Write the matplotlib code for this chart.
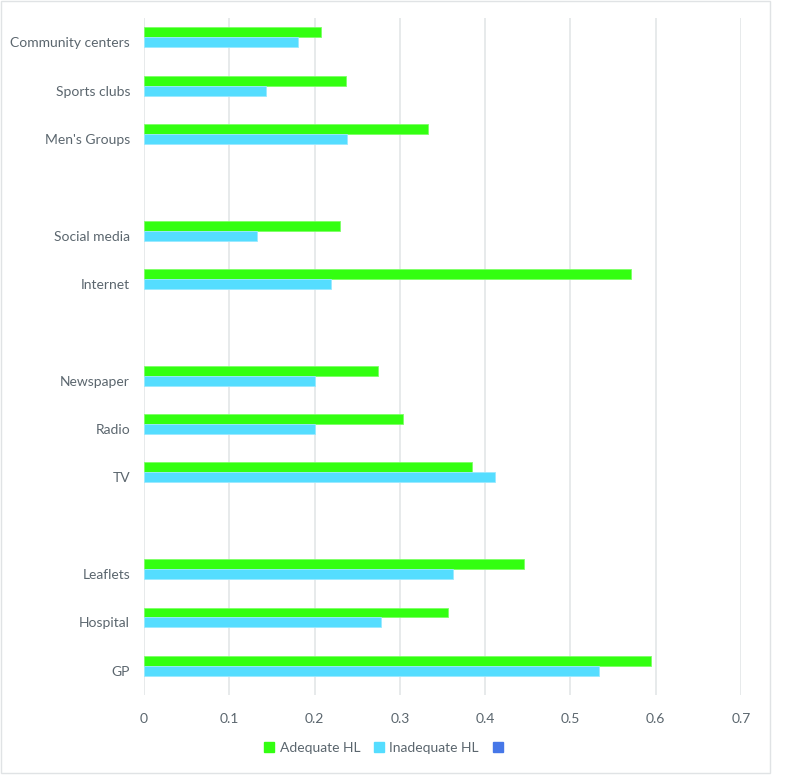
import matplotlib
matplotlib.use("Agg")
import matplotlib.pyplot as plt
import numpy as np
from matplotlib.patches import Patch, Rectangle

categories = ["Community centers", "Sports clubs", "Men's Groups", "",
              "Social media", "Internet", "",
              "Newspaper", "Radio", "TV", "",
              "Leaflets", "Hospital", "GP"]
adequate = [0.207, 0.237, 0.333, np.nan,
            0.230, 0.571, np.nan,
            0.274, 0.304, 0.385, np.nan,
            0.445, 0.356, 0.594]
inadequate = [0.181, 0.143, 0.238, np.nan,
              0.133, 0.219, np.nan,
              0.200, 0.200, 0.411, np.nan,
              0.362, 0.278, 0.534]
third = [np.nan] * len(categories)
series_labels = ["Adequate HL", "Inadequate HL", " "]
xticks = [0, 0.1, 0.2, 0.3, 0.4, 0.5, 0.6, 0.7]
xtick_labels = ["0", "0.1", "0.2", "0.3", "0.4", "0.5", "0.6", "0.7"]

GREEN = "#33ff11"
BLUE = "#55ddff"
DBLUE = "#4677e8"
TXT = "#5b666e"
GRID = "#e3e6e8"

plt.rcParams['font.family'] = ['Lato', 'DejaVu Sans']

fig = plt.figure(figsize=(7.99, 7.84), dpi=100)
ax = fig.add_axes([144/799, 1-695/784, (741-144)/799, (695-18)/784])

y = np.arange(len(categories))
w = 0.206
ax.barh(y - w, adequate, height=w, color=GREEN, edgecolor="#7dff66", linewidth=0.6, label=series_labels[0], zorder=3)
ax.barh(y, inadequate, height=w, color=BLUE, edgecolor="#9ae9ff", linewidth=0.6, label=series_labels[1], zorder=3)
ax.barh(y + w, third, height=w, color=DBLUE, label=series_labels[2], zorder=3)

ax.set_ylim(len(categories) - 0.5, -0.5)
ax.set_xlim(0, 0.7)
ax.set_yticks(y)
ax.set_yticklabels(categories)
ax.set_xticks(xticks)
ax.set_xticklabels(xtick_labels)
ax.tick_params(axis='both', length=0, labelsize=10, labelcolor=TXT)
ax.tick_params(axis='x', pad=13)
ax.tick_params(axis='y', pad=10)
ax.grid(axis='x', color=GRID, linewidth=1.2, zorder=0)
for s in ax.spines.values():
    s.set_visible(False)

handles = [Patch(color=GREEN), Patch(color=BLUE), Patch(color=DBLUE)]
fig.legend(handles, series_labels, loc='center', bbox_to_anchor=(388/799, 1-748/784),
           ncol=3, frameon=False, fontsize=10, labelcolor=TXT,
           handlelength=0.7, handleheight=0.7, handletextpad=0.4, columnspacing=1.0)

fig.patches.append(Rectangle((0.5/799, 1-773/784), 769/799, 772.5/784,
                             transform=fig.transFigure, fill=False,
                             edgecolor="#e0e3e5", linewidth=1.0))

fig.savefig("out.png", dpi=100)
